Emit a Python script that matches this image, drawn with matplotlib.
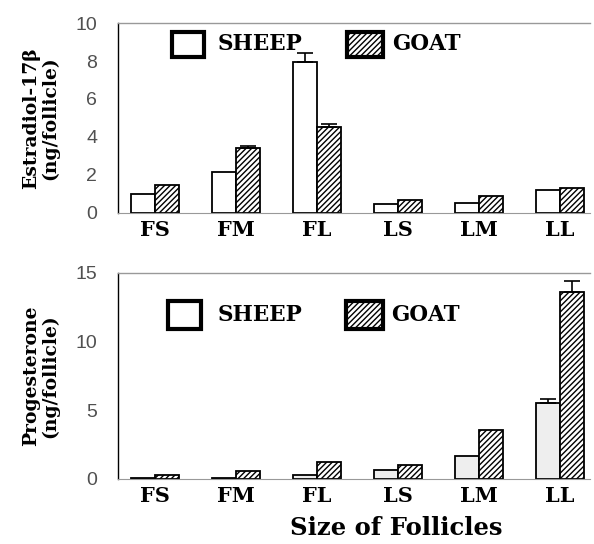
import matplotlib.pyplot as plt
from matplotlib.patches import Rectangle
import numpy as np

# data
follicles = ["FS", "FM", "FL", "LS", "LM", "LL"]
e2_sheep = [1.0, 2.15, 7.95, 0.45, 0.55, 1.2]
e2_goat = [1.45, 3.4, 4.5, 0.7, 0.9, 1.3]
e2_sheep_err = [0, 0, 0.45, 0, 0, 0]
e2_goat_err = [0, 0.15, 0.2, 0, 0, 0]
p4_sheep = [0.05, 0.05, 0.3, 0.65, 1.7, 5.55]
p4_goat = [0.3, 0.6, 1.25, 1.0, 3.55, 13.65]
p4_sheep_err = [0, 0, 0, 0, 0, 0.3]
p4_goat_err = [0, 0, 0, 0, 0, 0.75]

serif = "DejaVu Serif"
fig = plt.figure(figsize=(5.94, 5.44), dpi=100)
ax1 = fig.add_axes([0.1987, 0.6085, 0.7946, 0.3492])
ax2 = fig.add_axes([0.1987, 0.1195, 0.7946, 0.3787])

x = np.arange(len(follicles))
w = 0.3


def panel(ax, sheep, goat, serr, gerr, ymax, yticks, ylabel, sheep_face, leg):
    ax.bar(x - w / 2, sheep, w, color=sheep_face, edgecolor="black", linewidth=1.3)
    ax.bar(x + w / 2, goat, w, color="white", edgecolor="black", linewidth=1.3, hatch="//////")
    # upper error bars only where the reference shows them
    for xs, vals, errs in ((x - w / 2, sheep, serr), (x + w / 2, goat, gerr)):
        for xi, v, e in zip(xs, vals, errs):
            if e > 0:
                ax.errorbar(xi, v, yerr=[[0], [e]], ecolor="black", elinewidth=1.2,
                            capsize=6, capthick=1.2, fmt="none")
    ax.set_xlim(-0.457, 5.37)
    ax.set_ylim(0, ymax)
    ax.set_yticks(yticks)
    ax.set_xticks(x)
    ax.set_xticklabels(follicles, fontfamily=serif, fontweight="bold", fontsize=15)
    for t in ax.get_yticklabels():
        t.set_fontfamily("Liberation Sans")
        t.set_fontsize(14)
        t.set_color("#505050")
    ax.tick_params(length=0, axis="y", pad=15)
    ax.tick_params(length=0, axis="x", pad=5)
    ax.spines["right"].set_visible(False)
    ax.spines["top"].set_color("#999999")
    ax.spines["top"].set_linewidth(1.0)
    ax.spines["bottom"].set_color("#999999")
    ax.spines["bottom"].set_linewidth(0.8)
    ax.spines["left"].set_linewidth(1.0)
    ax.set_ylabel(ylabel, fontfamily=serif, fontweight="bold", fontsize=13.5, linespacing=1.0, labelpad=12)
    # legend drawn as boxes in axes coordinates
    (sx0, sx1, gx0, gx1, y0, y1, tsx, tgx, ty) = leg
    ax.add_patch(Rectangle((sx0, y0), sx1 - sx0, y1 - y0, transform=ax.transAxes,
                           facecolor="white", edgecolor="black", linewidth=3, clip_on=False))
    ax.add_patch(Rectangle((gx0, y0), gx1 - gx0, y1 - y0, transform=ax.transAxes,
                           facecolor="white", edgecolor="black", linewidth=3, hatch="//////", clip_on=False))
    ax.text(tsx, ty, "SHEEP", transform=ax.transAxes, fontfamily=serif, fontweight="bold",
            fontsize=15.5, va="center")
    ax.text(tgx, ty, "GOAT", transform=ax.transAxes, fontfamily=serif, fontweight="bold",
            fontsize=15.5, va="center")


panel(ax1, e2_sheep, e2_goat, e2_sheep_err, e2_goat_err, 10, [0, 2, 4, 6, 8, 10],
      "Estradiol-17β\n(ng/follicle)", "white",
      (0.114, 0.182, 0.485, 0.561, 0.82, 0.955, 0.21, 0.58, 0.89))
panel(ax2, p4_sheep, p4_goat, p4_sheep_err, p4_goat_err, 15, [0, 5, 10, 15],
      "Progesterone\n(ng/follicle)", "#eeeeee",
      (0.106, 0.176, 0.482, 0.561, 0.73, 0.865, 0.21, 0.578, 0.796))

fig.text(0.667, 0.017, "Size of Follicles", fontfamily=serif, fontweight="bold",
         fontsize=17.5, ha="center")

fig.savefig("out.png", dpi=100)
